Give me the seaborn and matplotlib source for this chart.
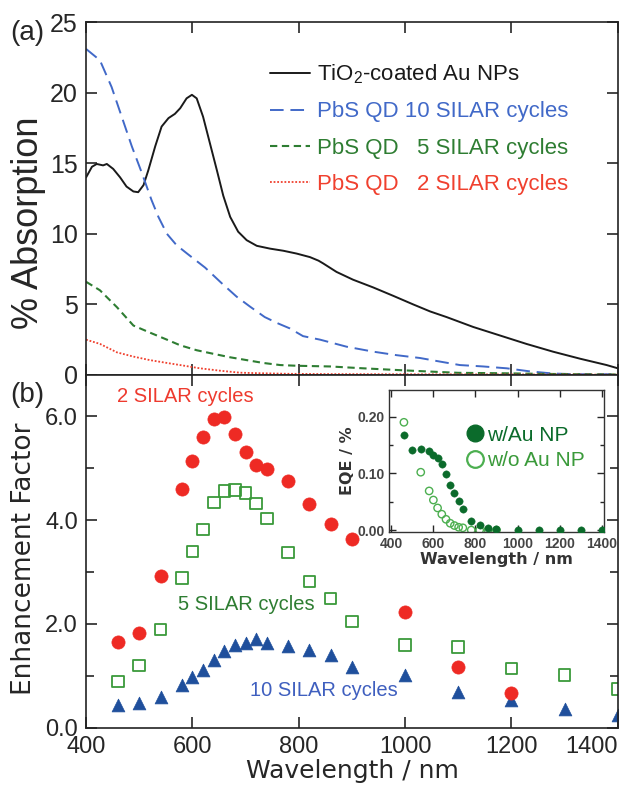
import numpy as np
import pandas as pd
import matplotlib
matplotlib.use("Agg")
import matplotlib.pyplot as plt
from matplotlib.lines import Line2D
from matplotlib.ticker import MultipleLocator, FormatStrFormatter
import seaborn as sns

# (a) absorption spectra
wl_au = [400, 411, 420, 432, 439, 451, 464, 476, 489, 498, 508, 517, 530, 542, 555, 567, 577, 589,
         599, 608, 620, 633, 646, 658, 671, 686, 702, 721, 746, 771, 796, 821, 837, 846, 871, 902,
         940, 978, 1015, 1047, 1078, 1128, 1178, 1228, 1278, 1329, 1379, 1400]
abs_au = [14.0, 14.75, 14.95, 14.85, 14.95, 14.6, 14.0, 13.35, 13.0, 12.95, 13.45, 14.5, 16.2, 17.6,
          18.2, 18.5, 18.9, 19.6, 19.85, 19.6, 18.3, 16.4, 14.5, 12.7, 11.2, 10.15, 9.55, 9.15, 8.95,
          8.8, 8.6, 8.35, 8.1, 7.9, 7.3, 6.75, 6.2, 5.6, 5.0, 4.5, 4.1, 3.4, 2.8, 2.2, 1.65, 1.15, 0.7, 0.47]

wl_10 = [400, 426, 448, 467, 486, 505, 523, 536, 552, 570, 590, 624, 655, 683, 708, 736, 761, 783,
         808, 840, 890, 940, 984, 1028, 1065, 1103, 1147, 1191, 1235, 1278, 1322, 1400]
abs_10 = [23.1, 22.3, 20.4, 18.3, 16.2, 14.3, 12.4, 11.2, 10.0, 9.2, 8.6, 7.6, 6.5, 5.55, 4.85, 4.1,
          3.65, 3.3, 2.75, 2.5, 2.0, 1.65, 1.4, 1.2, 0.95, 0.7, 0.6, 0.47, 0.25, 0.1, 0.05, 0.05]

wl_5 = [400, 426, 458, 489, 520, 552, 577, 608, 639, 671, 702, 733, 765, 796, 859, 921, 984, 1040,
        1100, 1180, 1250, 1320, 1400]
abs_5 = [6.6, 6.0, 4.8, 3.5, 3.0, 2.5, 2.1, 1.75, 1.5, 1.25, 1.05, 0.85, 0.7, 0.65, 0.6, 0.47, 0.35,
         0.25, 0.15, 0.12, 0.08, 0.05, 0.03]

wl_2 = [400, 426, 458, 489, 520, 552, 577, 614, 652, 689, 727, 780, 850, 950, 1100, 1250, 1400]
abs_2 = [2.5, 2.2, 1.6, 1.3, 1.05, 0.85, 0.7, 0.47, 0.3, 0.16, 0.12, 0.08, 0.06, 0.05, 0.04, 0.03, 0.02]

# (b) enhancement factors
wl_ef = [460, 500, 540, 580, 600, 620, 640, 660, 680, 700, 720, 740, 780, 820, 860, 900,
         1000, 1100, 1200, 1300, 1400]
ef_2 = [1.66, 1.83, 2.92, 4.61, 5.14, 5.6, 5.96, 5.99, 5.66, 5.31, 5.06, 4.98, 4.75, 4.32, 3.92, 3.63,
        2.24, 1.18, 0.66, np.nan, np.nan]
ef_5 = [0.89, 1.2, 1.89, 2.88, 3.4, 3.82, 4.34, 4.56, 4.58, 4.53, 4.32, 4.03, 3.38, 2.82, 2.49, 2.05,
        1.6, 1.56, 1.14, 1.02, 0.75]
ef_10 = [0.44, 0.47, 0.6, 0.83, 0.97, 1.12, 1.31, 1.47, 1.6, 1.64, 1.71, 1.64, 1.58, 1.5, 1.41, 1.18,
         1.02, 0.68, 0.54, 0.37, 0.25]

# inset EQE
eqe_au = [0.168, 0.141, 0.143, 0.139, 0.132, 0.127, 0.116, 0.099, 0.079, 0.065, 0.051, 0.037,
          0.016, 0.009, 0.004, 0.002, 0.0, 0.0, 0.0, 0.0, 0.0]
wl_noau = [460, 540, 580, 600, 620, 640, 660, 680, 700, 720, 740, 780, 820, 860, 900]
eqe_noau = [0.19, 0.102, 0.069, 0.053, 0.039, 0.028, 0.019, 0.012, 0.008, 0.005, 0.004, 0.0, 0.0, 0.0, 0.0]

sns.set_style("ticks")
plt.rcParams['font.family'] = ['Liberation Sans', 'DejaVu Sans']
plt.rcParams['mathtext.default'] = 'regular'

fig = plt.figure(figsize=(6.33, 7.91), dpi=100)
ax_a = fig.add_axes([0.136, 0.526, 0.840, 0.446])
ax_b = fig.add_axes([0.136, 0.080, 0.840, 0.446])

c_black = '#1a1a1a'
c_blue = '#4169c8'
c_green = '#2e7d32'
c_red = '#f0402e'

sns.lineplot(x=wl_au, y=abs_au, ax=ax_a, color=c_black, lw=1.4, errorbar=None,
             label='TiO$_2$-coated Au NPs')
sns.lineplot(x=wl_10, y=abs_10, ax=ax_a, color=c_blue, lw=1.4, errorbar=None,
             linestyle=(0, (7, 3.5)), label='PbS QD 10 SILAR cycles')
sns.lineplot(x=wl_5, y=abs_5, ax=ax_a, color=c_green, lw=1.5, errorbar=None,
             linestyle=(0, (3.5, 2.2)), label='PbS QD   5 SILAR cycles')
sns.lineplot(x=wl_2, y=abs_2, ax=ax_a, color=c_red, lw=1.3, errorbar=None,
             linestyle=(0, (1, 1)), label='PbS QD   2 SILAR cycles')

ax_a.set_xlim(400, 1400)
ax_a.set_ylim(0, 25)
ax_a.set_xticks(range(400, 1401, 200))
ax_a.set_yticks(range(0, 26, 5))
ax_a.tick_params(direction='in', top=True, right=True, length=8, width=1.2,
                 labelbottom=False, labelsize=18, pad=6)
ax_a.set_ylabel('% Absorption', fontsize=26)
ax_a.yaxis.set_label_coords(-0.075, 0.43)
leg = ax_a.legend(loc='upper left', bbox_to_anchor=(0.345, 0.885), frameon=False, fontsize=16,
                  handlelength=1.8, handletextpad=0.35, labelspacing=0.68, borderpad=0, borderaxespad=0)
for txt, col in zip(leg.get_texts(), [c_black, c_blue, c_green, c_red]):
    txt.set_color(col)

# bottom panel
df_ef = pd.DataFrame({'wl': wl_ef, 'ef2': ef_2, 'ef5': ef_5, 'ef10': ef_10})
sns.scatterplot(data=df_ef, x='wl', y='ef2', ax=ax_b, marker='o', s=90, color='#ee2a24',
                edgecolor='#ee2a24', linewidth=0.5, zorder=3)
sns.scatterplot(data=df_ef, x='wl', y='ef5', ax=ax_b, marker='s', s=70, facecolors='none',
                edgecolor='#3a9a3a', linewidth=1.3, zorder=2)
sns.scatterplot(data=df_ef, x='wl', y='ef10', ax=ax_b, marker='^', s=85, color='#1f4f9c',
                edgecolor='#1f4f9c', linewidth=0.5, zorder=2)

ax_b.set_xlim(400, 1400)
ax_b.set_ylim(0, 6.8)
ax_b.set_xticks(range(400, 1401, 200))
ax_b.yaxis.set_major_locator(MultipleLocator(2))
ax_b.yaxis.set_minor_locator(MultipleLocator(1))
ax_b.yaxis.set_major_formatter(FormatStrFormatter('%.1f'))
ax_b.tick_params(which='both', direction='in', top=True, right=True, width=1.2)
ax_b.tick_params(which='major', length=8, labelsize=17, pad=6)
ax_b.tick_params(which='minor', length=6)
ax_b.get_xticklabels()[-1].set_horizontalalignment('right')
ax_b.set_xlabel('Wavelength / nm', fontsize=18, family='DejaVu Sans')
ax_b.xaxis.set_label_coords(0.5, -0.09)
ax_b.set_ylabel('Enhancement Factor', fontsize=19, family='DejaVu Sans')
ax_b.yaxis.set_label_coords(-0.092, 0.48)

ax_b.text(458, 6.38, '2 SILAR cycles', color='#ee3a2e', fontsize=14.5, va='center')
ax_b.text(573, 2.38, '5 SILAR cycles', color='#2e7d32', fontsize=14.5, va='center')
ax_b.text(708, 0.71, '10 SILAR cycles', color='#3f5fbf', fontsize=14.5, va='center')

for ax in (ax_a, ax_b):
    for sp in ax.spines.values():
        sp.set_linewidth(1.2)
        sp.set_color('#222222')

fig.text(0.016, 0.958, '(a)', fontsize=20, va='center')
fig.text(0.016, 0.501, '(b)', fontsize=20, va='center')

# inset
ax_in = fig.add_axes([0.6145, 0.327, 0.3397, 0.180])
sns.scatterplot(x=wl_ef, y=eqe_au, ax=ax_in, marker='o', s=28, color='#0b6b2b',
                edgecolor='#0b6b2b', linewidth=0.3, zorder=3)
sns.scatterplot(x=wl_noau, y=eqe_noau, ax=ax_in, marker='o', s=28, facecolors='none',
                edgecolor='#4caf50', linewidth=1.0, zorder=2)
ax_in.set_xlim(389, 1411)
ax_in.set_ylim(-0.004, 0.247)
ax_in.set_xticks(range(400, 1401, 200))
ax_in.yaxis.set_major_locator(MultipleLocator(0.1))
ax_in.yaxis.set_minor_locator(MultipleLocator(0.05))
ax_in.yaxis.set_major_formatter(FormatStrFormatter('%.2f'))
ax_in.tick_params(which='both', direction='in', top=True, right=True, width=1.0)
ax_in.tick_params(which='major', length=5, labelsize=10, pad=3, labelcolor='#444444')
ax_in.tick_params(which='minor', length=3)
for lab in ax_in.get_xticklabels() + ax_in.get_yticklabels():
    lab.set_fontweight('bold')
for sp in ax_in.spines.values():
    sp.set_linewidth(1.0)
    sp.set_color('#333333')
ax_in.set_xlabel('Wavelength / nm', fontsize=11.5, family='DejaVu Sans', fontweight='bold',
                 color='#333333', labelpad=1)
ax_in.set_ylabel('EQE / %', fontsize=11.5, family='DejaVu Sans', fontweight='bold',
                 color='#333333', labelpad=2)
handles = [Line2D([], [], ls='none', marker='o', ms=12, color='#0b6b2b'),
           Line2D([], [], ls='none', marker='o', ms=12, mfc='none', mec='#4caf50', mew=1.6)]
leg_in = ax_in.legend(handles, ['w/Au NP', 'w/o Au NP'], loc='upper left',
                      bbox_to_anchor=(0.37, 0.75), frameon=False, fontsize=15,
                      handlelength=0.6, handletextpad=0.3, labelspacing=0.3,
                      borderpad=0, borderaxespad=0)
leg_in.get_texts()[0].set_color('#0b6b2b')
leg_in.get_texts()[1].set_color('#3a9a3a')

fig.savefig('out.png', dpi=100)
